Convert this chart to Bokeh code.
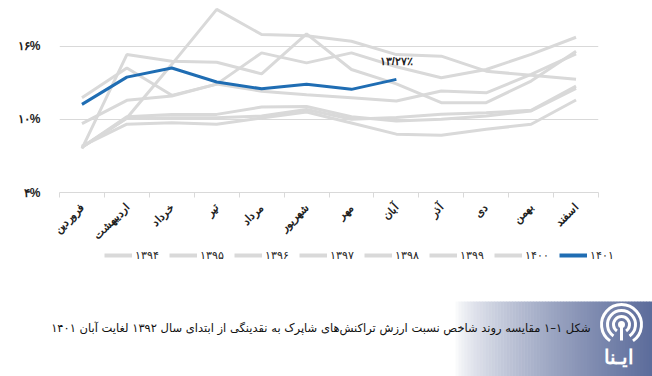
import math
import numpy as np
from bokeh.plotting import figure
from bokeh.models import Range1d, FixedTicker, Legend, LegendItem, Label
from bokeh.layouts import column, row
from bokeh.embed import file_html
from bokeh.resources import INLINE
from bokeh.core.properties import value

months = ["فروردین", "اردیبهشت", "خرداد", "تیر", "مرداد", "شهریور",
          "مهر", "آبان", "آذر", "دی", "بهمن", "اسفند"]
years = ["۱۳۹۴", "۱۳۹۵", "۱۳۹۶", "۱۳۹۷", "۱۳۹۸", "۱۳۹۹", "۱۴۰۰", "۱۴۰۱"]

s1394 = [7.7, 10.1, 14.5, 19.0, 16.94, 16.85, 16.39, 15.3, 15.17, 13.94, 13.6, 13.27]
s1395 = [7.6, 15.3, 14.76, 14.67, 13.72, 17.0, 14.08, 12.9, 11.36, 11.36, 13.13, 15.58]
s1396 = [11.76, 14.2, 11.96, 12.88, 15.44, 14.62, 15.44, 14.3, 13.4, 14.08, 15.31, 16.72]
s1397 = [9.64, 11.55, 11.9, 12.88, 12.3, 12.0, 11.76, 11.5, 12.31, 12.17, 13.67, 15.36]
s1398 = [7.7, 10.08, 10.13, 10.13, 10.27, 10.8, 10.0, 10.14, 10.41, 10.54, 10.73, 12.72]
s1399 = [7.7, 10.2, 10.4, 10.4, 11.0, 11.05, 10.2, 9.86, 10.0, 10.27, 10.68, 12.53]
s1400 = [7.8, 9.6, 9.72, 9.6, 10.1, 10.6, 9.7, 8.78, 8.69, 9.18, 9.59, 11.58]
s1401 = [11.22, 13.45, 14.2, 13.05, 12.5, 12.86, 12.45, 13.27]

y_ticks = [4, 10, 16]
y_tick_labels = ["۴%", "۱۰%", "۱۶%"]
last_label = "۱۳/۲۷٪"
caption = "شکل ۱–۱ مقایسه روند شاخص نسبت ارزش تراکنش‌های شاپرک به نقدینگی از ابتدای سال ۱۳۹۲ لغایت آبان ۱۴۰۱"

GRAY = "#d9d9d9"
BLUE = "#1f6db3"
series = [s1394, s1395, s1396, s1397, s1398, s1399, s1400, s1401]
colors = [GRAY] * 7 + [BLUE]

xs = np.arange(len(months)) + 0.5

# ---- main chart ----
p = figure(width=652, height=248, x_range=Range1d(0, 12), y_range=Range1d(4, 19.73),
           output_backend="svg", toolbar_location=None,
           min_border_left=59, min_border_right=54, min_border_top=0, min_border_bottom=55)
p.outline_line_color = None

for vals, c in zip(series, colors):
    p.line(xs[:len(vals)], vals, line_color=c, line_width=3)

p.add_layout(Label(x=xs[len(s1401) - 1], y=s1401[-1], text=last_label, text_align="center",
                   text_baseline="bottom", y_offset=12, text_font_size="11px",
                   text_font_style="bold", text_color="#222222"))

p.xaxis.ticker = FixedTicker(ticks=list(xs), minor_ticks=list(range(13)))
p.xaxis.major_label_overrides = {float(x): m for x, m in zip(xs, months)}
p.xaxis.major_tick_line_color = None
p.xaxis.minor_tick_line_color = GRAY
p.xaxis.minor_tick_out = 5
p.xaxis.minor_tick_in = 0
p.xaxis.axis_line_color = GRAY
p.xaxis.major_label_orientation = math.pi / 4
p.xaxis.major_label_text_font_style = "bold"
p.xaxis.major_label_text_font_size = "11px"
p.xaxis.major_label_text_color = "#222222"
p.xaxis.major_label_standoff = 7

p.yaxis.ticker = FixedTicker(ticks=y_ticks)
p.yaxis.major_label_overrides = {t: l for t, l in zip(y_ticks, y_tick_labels)}
p.yaxis.axis_line_color = None
p.yaxis.major_tick_line_color = None
p.yaxis.minor_tick_line_color = None
p.yaxis.major_label_standoff = 13
p.yaxis.major_label_text_font_style = "bold"
p.yaxis.major_label_text_font_size = "12px"
p.yaxis.major_label_text_color = "#222222"

p.xgrid.grid_line_color = None
p.ygrid.grid_line_color = GRAY
p.ygrid.grid_line_width = 1

# ---- legend + caption panel ----
H = 128
q = figure(width=652, height=H, x_range=Range1d(0, 652), y_range=Range1d(0, H),
           output_backend="svg", toolbar_location=None,
           x_axis_location=None, y_axis_location=None,
           min_border_left=0, min_border_right=0, min_border_top=0, min_border_bottom=0)
q.grid.grid_line_color = None
q.outline_line_color = None

items = []
for y, c in zip(years, colors):
    r = q.line(x=[np.nan], y=[np.nan], line_color=c, line_width=4)
    items.append(LegendItem(label=y, renderers=[r]))
legend = Legend(items=items, orientation="horizontal", location=(104, 115),
                glyph_width=28, glyph_height=12, label_height=12, label_width=30,
                label_standoff=3, spacing=4, padding=0, margin=0,
                border_line_color=None, background_fill_alpha=0,
                label_text_font_size="10.5px", label_text_color="#222222")
q.add_layout(legend)

x0, x1 = 455, 652
n = 66
edges = np.linspace(x0, x1, n + 1)
c0 = np.array([255, 255, 255])
c1 = np.array([92, 108, 155])
cols = []
for i in range(n):
    t = ((i + 0.5) / n) ** 0.7
    c = (c0 + (c1 - c0) * t).astype(int)
    cols.append("#%02x%02x%02x" % tuple(c))
q.quad(left=edges[:-1], right=edges[1:] + 0.5, bottom=0, top=75, fill_color=cols, line_color=None)

q.text(x=[590], y=[49], text=[caption], text_align="right", text_baseline="middle",
       text_font_size="11.5px", text_font=value("DejaVu Sans"), text_color="#111111")

cx, cy = 621, 52
q.arc(x=[cx] * 3, y=[cy] * 3, radius=[8, 14, 20], radius_units="screen",
      start_angle=-math.radians(55), end_angle=math.radians(235),
      line_color="white", line_width=3)
q.scatter(x=[cx], y=[cy], size=7, fill_color="white", line_color=None)
q.segment(x0=[cx], y0=[cy], x1=[cx], y1=[cy - 16], line_color="white", line_width=3)
q.text(x=[618], y=[20], text=["ایـنا"], text_align="center", text_baseline="middle",
       text_font_size="20px", text_font_style="bold", text_color="white")

layout = column(p, row(q), spacing=0)
open("out.html", "w").write(file_html(layout, INLINE))
